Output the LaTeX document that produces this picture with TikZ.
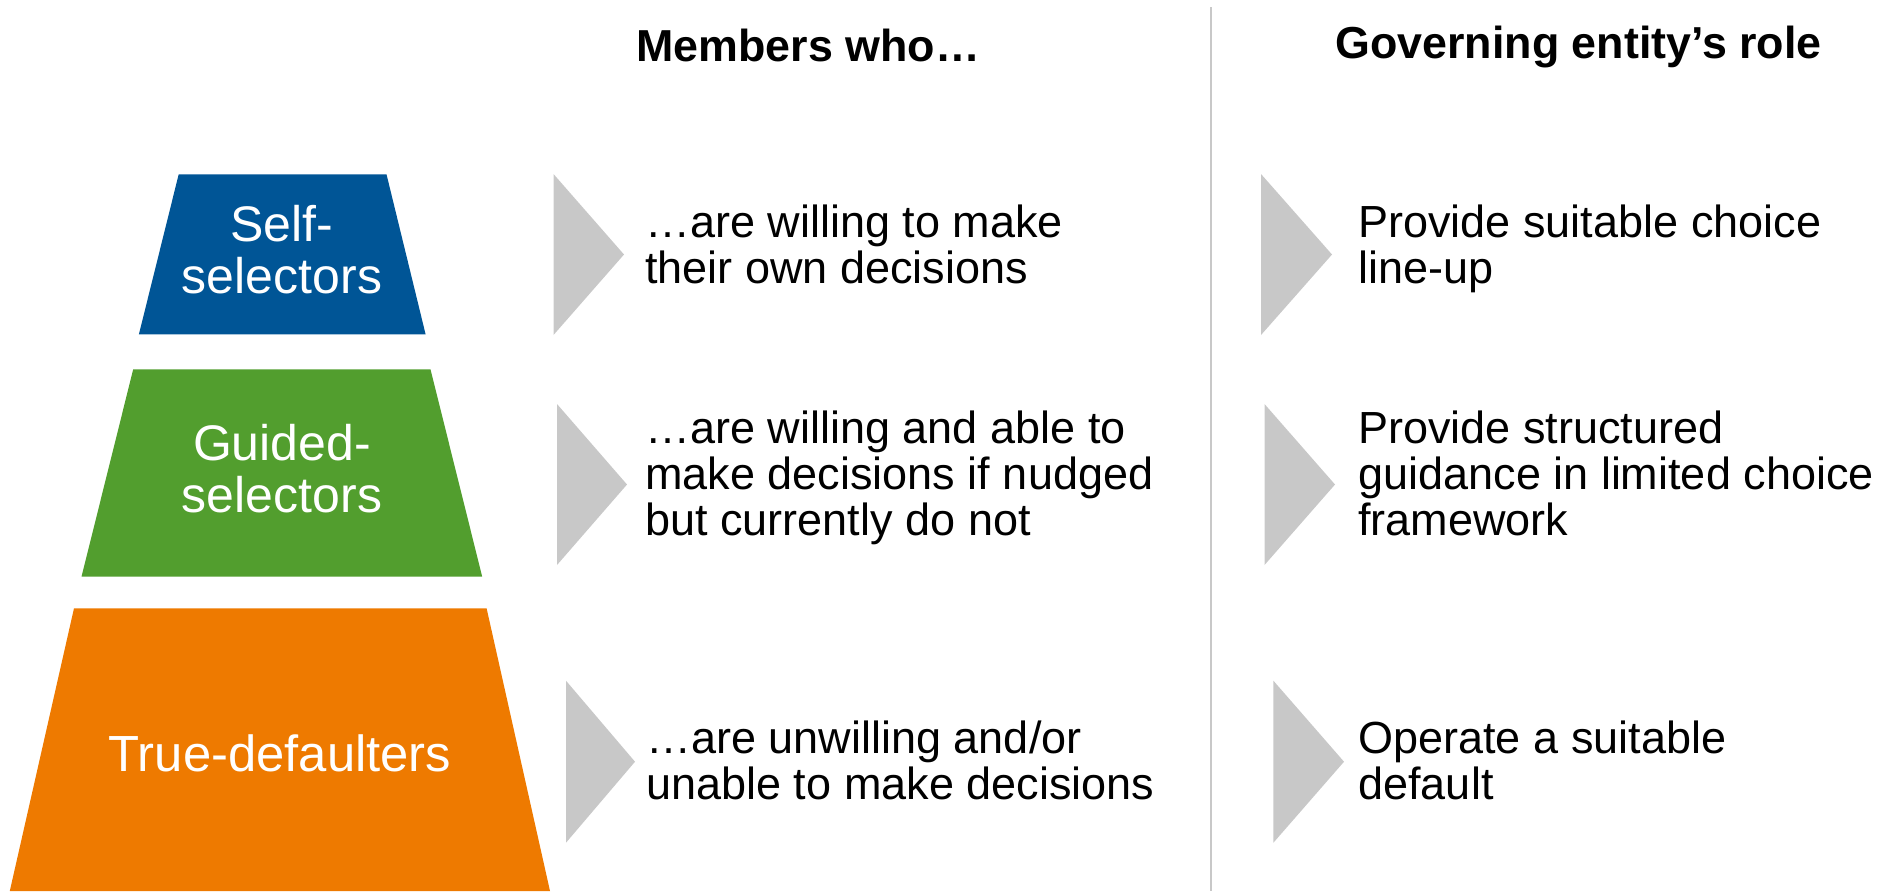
\documentclass[tikz,border=0pt]{standalone}
\usepackage{fontspec}
\setmainfont{Liberation Sans}
\definecolor{selfblue}{RGB}{0,85,150}
\definecolor{guidegreen}{RGB}{82,158,46}
\definecolor{defaultorange}{RGB}{238,122,0}
\definecolor{arrowgray}{RGB}{200,200,200}
\definecolor{rulegray}{RGB}{200,200,200}
\tikzset{
  tri/.style={fill=arrowgray},
  bodytxt/.style={anchor=base west, inner sep=0pt, font=\fontsize{22.5pt}{22.2pt}\selectfont},
  headtxt/.style={anchor=base west, inner sep=0pt, font=\fontsize{22.4pt}{26pt}\selectfont\bfseries},
  pyrtxt/.style={anchor=base, inner sep=0pt, text=white, font=\fontsize{25pt}{26pt}\selectfont},
  pyrtxtsmall/.style={anchor=base, inner sep=0pt, text=white, font=\fontsize{25.4pt}{26pt}\selectfont},
}
\begin{document}
\begin{tikzpicture}[x=0.5pt,y=-0.5pt]
\useasboundingbox (0,0) rectangle (1893,891);
% separator
\draw[rulegray, line width=1.1pt] (1211,7) -- (1211,891);
% headers
\node[headtxt] (h1) at (636,61) {Members who…};
\node[headtxt] (h2) at (1335,58) {Governing entity’s role};
% pyramid
\fill[selfblue] (178.7,174.3) -- (386.5,174.3) -- (425.6,334.3) -- (138.9,334.3) -- cycle;
\fill[guidegreen] (133.2,369.3) -- (430.5,369.3) -- (482.2,576.7) -- (81.5,576.7) -- cycle;
\fill[defaultorange] (74,608.3) -- (486.6,608.3) -- (550,891) -- (9.8,891) -- cycle;
\node[pyrtxt] (p1) at (282,241.7) {\begin{tabular}[t]{@{}c@{}}Self-\\selectors\end{tabular}};
\node[pyrtxt] (p2) at (282,460) {\begin{tabular}[t]{@{}c@{}}Guided-\\selectors\end{tabular}};
\node[pyrtxtsmall] (p3) at (280,771) {True-defaulters};
% arrows column 1
\fill[tri] (553.5,174) -- (624,254.5) -- (553.5,335) -- cycle;
\fill[tri] (557,404) -- (627,484.5) -- (557,565) -- cycle;
\fill[tri] (566,680.7) -- (635,761.7) -- (566,842.7) -- cycle;
% arrows column 2
\fill[tri] (1261,174) -- (1332,254.5) -- (1261,335) -- cycle;
\fill[tri] (1264.5,404) -- (1335,484.5) -- (1264.5,565) -- cycle;
\fill[tri] (1273.4,680.7) -- (1344,761.7) -- (1273.4,842.7) -- cycle;
% texts column 1
\node[bodytxt] (m1) at (645,237.3) {\begin{tabular}[t]{@{}l@{}}…are willing to make\\their own decisions\end{tabular}};
\node[bodytxt] (m2) at (645,443.3) {\begin{tabular}[t]{@{}l@{}}…are willing and able to\\make decisions if nudged\\but currently do not\end{tabular}};
\node[bodytxt] (m3) at (646,753.3) {\begin{tabular}[t]{@{}l@{}}…are unwilling and/or\\unable to make decisions\end{tabular}};
% texts column 2
\node[bodytxt] (g1) at (1358,237.3) {\begin{tabular}[t]{@{}l@{}}Provide suitable choice\\line-up\end{tabular}};
\node[bodytxt] (g2) at (1358,443.3) {\begin{tabular}[t]{@{}l@{}}Provide structured\\guidance in limited choice\\framework\end{tabular}};
\node[bodytxt] (g3) at (1358,753.3) {\begin{tabular}[t]{@{}l@{}}Operate a suitable\\default\end{tabular}};
\end{tikzpicture}
\end{document}
